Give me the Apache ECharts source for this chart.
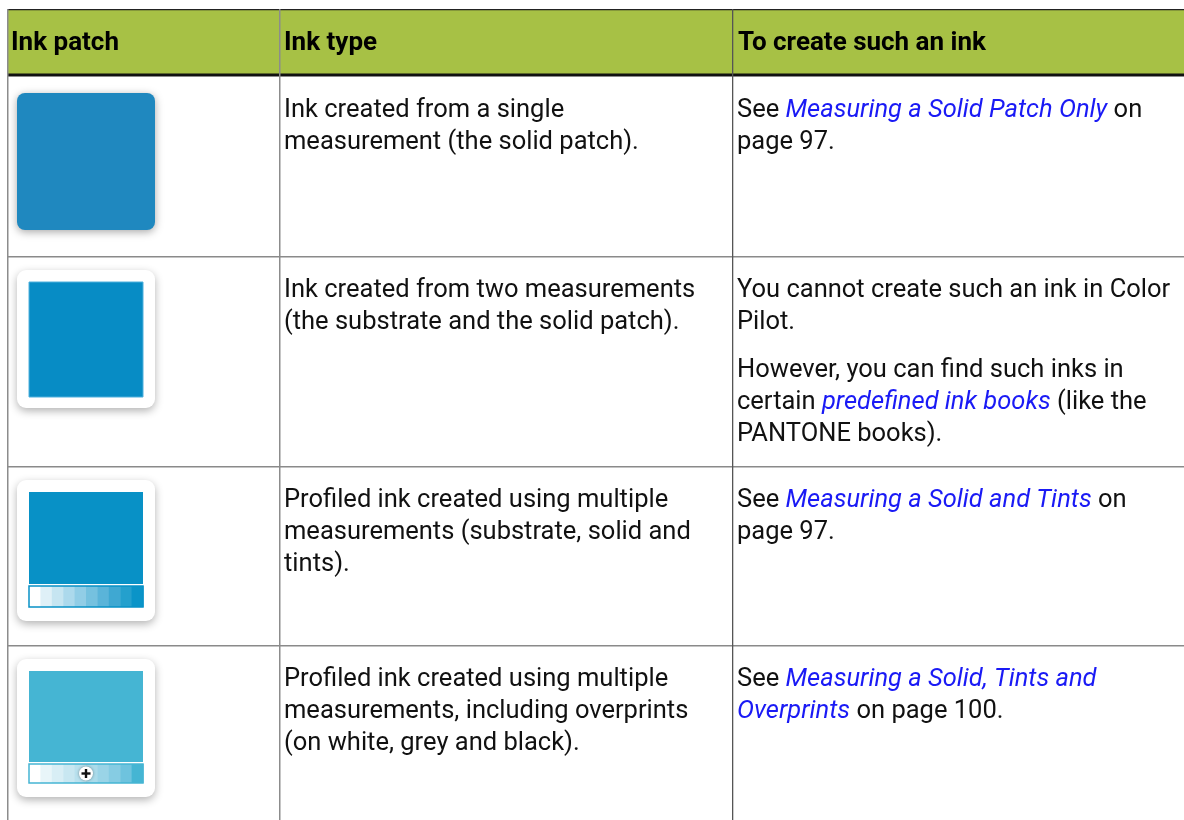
<!DOCTYPE html>
<html><head><meta charset="utf-8">
<script src="https://cdn.jsdelivr.net/npm/echarts@6/dist/echarts.min.js"></script>
<style>html,body{margin:0;padding:0;background:#fff;overflow:hidden}#c{width:1184px;height:820px}</style>
</head><body><div id="c"></div>
<script>
// ---------- data ----------
const headers = ['Ink patch', 'Ink type', 'To create such an ink'];
const patchKinds = ['solid', 'framed', 'tints', 'overprints'];
const patchColors = ['#1f88bf', '#078cc5', '#0891c6', '#45b5d3'];
const inkTypeLines = [
  ['Ink created from a single', 'measurement (the solid patch).'],
  ['Ink created from two measurements', '(the substrate and the solid patch).'],
  ['Profiled ink created using multiple', 'measurements (substrate, solid and', 'tints).'],
  ['Profiled ink created using multiple', 'measurements, including overprints', '(on white, grey and black).']
];
const createParas = [
  [['See {l|Measuring a Solid Patch Only} on', 'page 97.']],
  [['You cannot create such an ink in Color', 'Pilot.'],
   ['However, you can find such inks in', 'certain {l|predefined ink books} (like the', 'PANTONE books).']],
  [['See {l|Measuring a Solid and Tints} on', 'page 97.']],
  [['See {l|Measuring a Solid, Tints and}', '{l|Overprints} on page 100.']]
];
const tintsSolid = ['#ffffff', '#dff0f7', '#c6e5f1', '#acd9ec', '#91cde6', '#75c1df', '#5ab4d9', '#3fa8d2', '#24a0cd', '#0a94c8'];
const tintsOver = ['#ffffff', '#e8f5f9', '#d8eef5', '#c8e7f1', '#b9e1ee', '#aadbea', '#9ad4e7', '#86cce3', '#6ec3de', '#45b5d3'];

// ---------- layout ----------
const W = 1184, H = 820;
const FONT = 'Roboto';
const FS = 25.5, HFS = 26, LH = 32, PARA_GAP = 16;
const TEXT_COLOR = '#111111', LINK_COLOR = '#1a1af5';
const left = 8, col2 = 280, col3 = 733;
const tableTop = 9, headBottom = 76;
const rowHeights = [180, 210, 179, 200];
const rowTops = [];
{ let y = headBottom; rowHeights.forEach(h => { rowTops.push(y); y += h; }); }

function textEl(str, x, y, opts) {
  opts = opts || {};
  const fs = opts.size || FS;
  return {
    type: 'text', silent: true,
    style: {
      text: str, x: x, y: y, align: 'left', verticalAlign: 'middle',
      fill: opts.color || TEXT_COLOR, fontFamily: FONT, fontSize: fs,
      fontWeight: opts.bold ? 'bold' : 'normal',
      rich: { l: { fill: LINK_COLOR, fontStyle: 'italic', fontFamily: FONT, fontSize: fs } }
    }
  };
}

function patchEls(kind, color, top) {
  const els = [];
  if (kind === 'solid') {
    els.push({ type: 'rect', shape: { x: 17, y: top + 17, width: 138, height: 137, r: 8 },
      style: { fill: color, shadowBlur: 8, shadowColor: 'rgba(0,0,0,0.35)', shadowOffsetY: 2 } });
    return els;
  }
  const fy = top + 14;
  const fh = kind === 'tints' ? 141 : 138;
  els.push({ type: 'rect', shape: { x: 17, y: fy, width: 138, height: fh, r: 9 },
    style: { fill: '#ffffff', shadowBlur: 9, shadowColor: 'rgba(0,0,0,0.30)', shadowOffsetY: 3 } });
  const ix = 29, iy = fy + 12, iw = 114;
  if (kind === 'framed') {
    els.push({ type: 'rect', shape: { x: ix, y: iy, width: iw, height: 115 },
      style: { fill: color, stroke: '#4fb0dd', lineWidth: 1 } });
    return els;
  }
  const solidH = kind === 'tints' ? 92 : 91;
  els.push({ type: 'rect', shape: { x: ix, y: iy, width: iw, height: solidH },
    style: { fill: color } });
  const by = iy + solidH + 2;
  const bh = kind === 'tints' ? 21 : 19;
  const tints = kind === 'tints' ? tintsSolid : tintsOver;
  const cw = iw / tints.length;
  tints.forEach((c, i) => {
    els.push({ type: 'rect', shape: { x: ix + i * cw, y: by, width: cw + 0.5, height: bh },
      style: { fill: c } });
  });
  els.push({ type: 'rect', shape: { x: ix, y: by, width: iw, height: bh },
    style: { fill: 'none', stroke: color, lineWidth: 1.5 } });
  if (kind === 'overprints') {
    const cx = ix + iw / 2, cy = by + bh / 2;
    els.push({ type: 'circle', shape: { cx: cx, cy: cy, r: 7 },
      style: { fill: '#ffffff', shadowBlur: 3, shadowColor: 'rgba(0,0,0,0.4)' } });
    els.push({ type: 'rect', shape: { x: cx - 4.5, y: cy - 1.2, width: 9, height: 2.4 }, style: { fill: '#111' } });
    els.push({ type: 'rect', shape: { x: cx - 1.2, y: cy - 4.5, width: 2.4, height: 9 }, style: { fill: '#111' } });
  }
  return els;
}

function renderRow(params, api) {
  const i = params.dataIndex;
  const top = rowTops[i];
  const children = patchEls(patchKinds[i], patchColors[i], top);
  const y0 = top + 34.5;
  inkTypeLines[i].forEach((ln, k) => {
    children.push(textEl(ln, col2 + 4, y0 + k * LH));
  });
  let y = y0;
  createParas[i].forEach((para, p) => {
    if (p > 0) y += PARA_GAP;
    para.forEach(ln => { children.push(textEl(ln, col3 + 4, y)); y += LH; });
  });
  return { type: 'group', children: children };
}

// ---------- frame (header, rules) ----------
const frame = [];
frame.push({ type: 'rect', shape: { x: left, y: tableTop, width: W - left, height: headBottom - tableTop }, style: { fill: '#a7c145' } });
frame.push({ type: 'rect', shape: { x: left, y: tableTop, width: W - left, height: 1.2 }, style: { fill: '#222' } });
frame.push({ type: 'rect', shape: { x: left, y: headBottom - 2.5, width: W - left, height: 2.5 }, style: { fill: '#111' } });
frame.push({ type: 'rect', shape: { x: left, y: headBottom, width: W - left, height: 1 }, style: { fill: '#8a8a8a' } });
rowTops.slice(1).forEach(y => {
  frame.push({ type: 'rect', shape: { x: left, y: y, width: W - left, height: 1.5 }, style: { fill: '#8a8a8a' } });
});
frame.push({ type: 'rect', shape: { x: left - 1, y: tableTop, width: 1.5, height: H - tableTop }, style: { fill: '#8c8c8c' } });
frame.push({ type: 'rect', shape: { x: col2 - 1, y: tableTop, width: 1.5, height: H - tableTop }, style: { fill: '#8c8c8c' } });
frame.push({ type: 'rect', shape: { x: col3 - 1, y: tableTop, width: 1.3, height: H - tableTop }, style: { fill: '#555' } });
const headerX = [left + 3, col2 + 4, col3 + 5];
headers.forEach((h, i) => frame.push(textEl(h, headerX[i], 43.5, { bold: true, color: '#000', size: HFS })));

const chart = echarts.init(document.getElementById('c'), null, { renderer: 'canvas', width: W, height: H });
chart.setOption({
  backgroundColor: '#ffffff',
  animation: false,
  graphic: { elements: frame.map(e => Object.assign({ silent: true }, e)) },
  series: [{
    type: 'custom', coordinateSystem: 'none', silent: true,
    data: patchKinds.map((k, i) => i),
    renderItem: renderRow
  }]
});
</script>
</body></html>
